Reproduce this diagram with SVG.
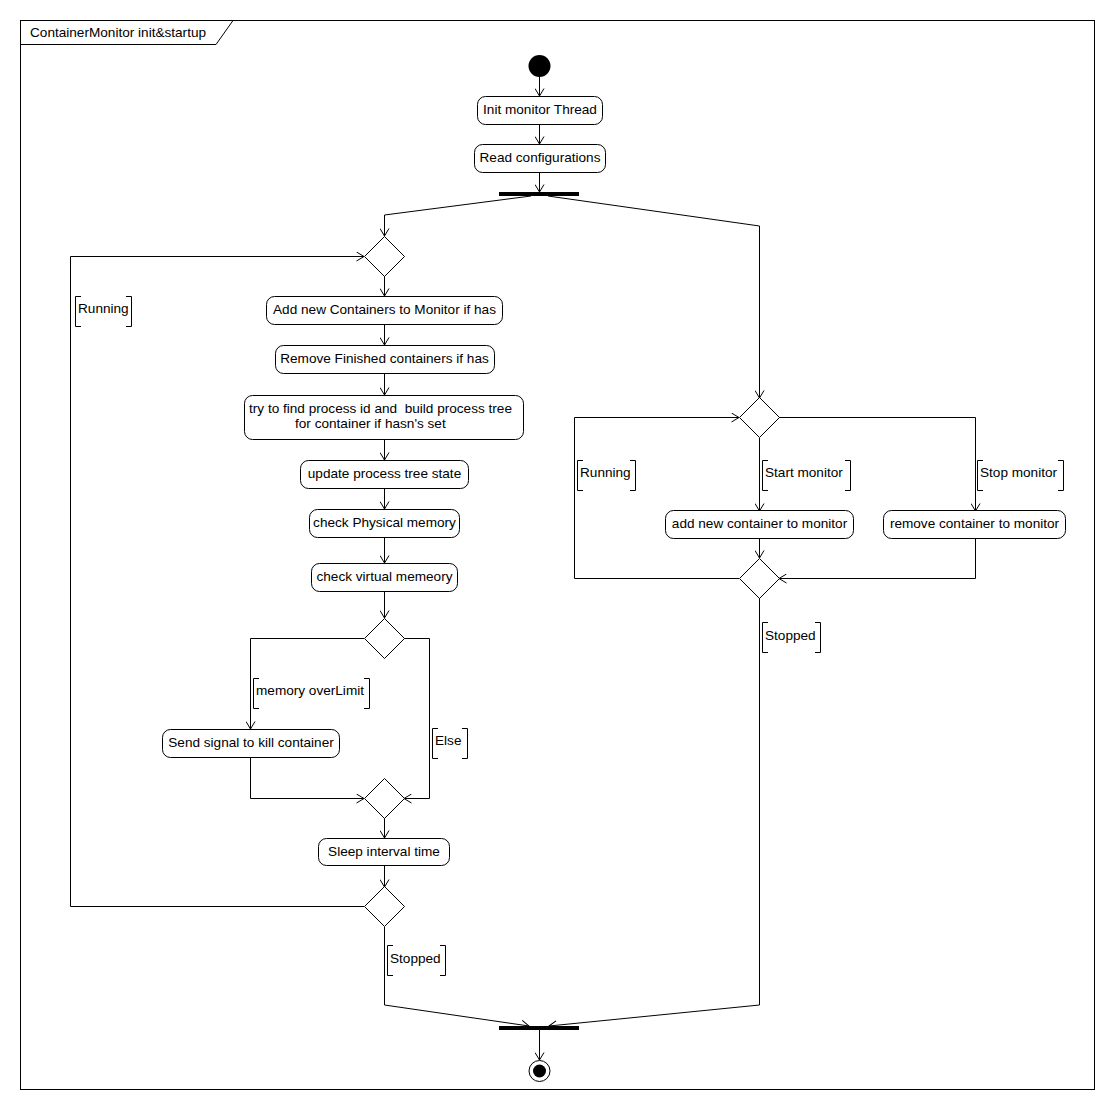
<svg xmlns="http://www.w3.org/2000/svg" width="1115" height="1111" viewBox="0 0 1115 1111">
<style>
text{font-family:"Liberation Sans",Arial,sans-serif;font-size:13.6px;fill:#000}
.act{fill:#fff;stroke:#000;stroke-width:1}
.dec{fill:#fff;stroke:#000;stroke-width:1}
.c{fill:none;stroke:#000;stroke-width:1}
.g{fill:none;stroke:#000;stroke-width:1}
.bar{fill:#000}
</style>
<defs>
<marker id="arr" viewBox="0 0 10 10" refX="9.5" refY="5" markerWidth="10" markerHeight="10" markerUnits="userSpaceOnUse" orient="auto">
<path d="M2,0.5 L9.5,5 L2,9.5" fill="none" stroke="#000" stroke-width="1"/>
</marker>
</defs>
<rect x="0" y="0" width="1115" height="1111" fill="#fff"/>
<g id="frame">
<rect x="20.5" y="20.5" width="1074" height="1069" fill="none" stroke="#000"/>
<path d="M20.5,44.5 H216 L233,20.5" fill="none" stroke="#000"/>
<text x="30" y="37">ContainerMonitor init&amp;startup</text>
</g>
<g id="connectors">
<path class="c" d="M539.5,77 V96" marker-end="url(#arr)"/>
<path class="c" d="M539.5,124 V144" marker-end="url(#arr)"/>
<path class="c" d="M539.5,172 V192" marker-end="url(#arr)"/>
<path class="c" d="M531,196 L384.5,215 V236" marker-end="url(#arr)"/>
<path class="c" d="M548,196 L759.5,226 V398" marker-end="url(#arr)"/>
<path class="c" d="M384.5,276 V296" marker-end="url(#arr)"/>
<path class="c" d="M384.5,324 V345" marker-end="url(#arr)"/>
<path class="c" d="M384.5,373 V395" marker-end="url(#arr)"/>
<path class="c" d="M384.5,440 V460" marker-end="url(#arr)"/>
<path class="c" d="M384.5,488 V509" marker-end="url(#arr)"/>
<path class="c" d="M384.5,537 V563" marker-end="url(#arr)"/>
<path class="c" d="M384.5,591 V618" marker-end="url(#arr)"/>
<path class="c" d="M364,638.5 H250.5 V729" marker-end="url(#arr)"/>
<path class="c" d="M404,638.5 H429.5 V798.5 H404" marker-end="url(#arr)"/>
<path class="c" d="M250.5,757 V798.5 H364" marker-end="url(#arr)"/>
<path class="c" d="M384.5,818 V838" marker-end="url(#arr)"/>
<path class="c" d="M384.5,865 V887" marker-end="url(#arr)"/>
<path class="c" d="M364,906.5 H70.5 V256.5 H364" marker-end="url(#arr)"/>
<path class="c" d="M384.5,927 V1005 L529,1026" marker-end="url(#arr)"/>
<path class="c" d="M759.5,438 V511" marker-end="url(#arr)"/>
<path class="c" d="M779,417.5 H975.5 V511" marker-end="url(#arr)"/>
<path class="c" d="M759.5,538 V558" marker-end="url(#arr)"/>
<path class="c" d="M975.5,538 V578.5 H779" marker-end="url(#arr)"/>
<path class="c" d="M739,578.5 H574.5 V417.5 H739" marker-end="url(#arr)"/>
<path class="c" d="M759.5,598 V1005 L549,1026" marker-end="url(#arr)"/>
<path class="c" d="M539.5,1030 V1060" marker-end="url(#arr)"/>
</g>
<g id="guards">
<g id="g-running-left"><path class="g" d="M81,296.5 H75.5 V326.5 H81 M126,296.5 H131.5 V326.5 H126"/><text x="78" y="313">Running</text></g>
<g id="g-overlimit"><path class="g" d="M259,678.5 H253.5 V708.5 H259 M364,678.5 H369.5 V708.5 H364"/><text x="256" y="695">memory overLimit</text></g>
<g id="g-else"><path class="g" d="M438,728.5 H432.5 V758.5 H438 M462,728.5 H467.5 V758.5 H462"/><text x="435" y="745">Else</text></g>
<g id="g-stopped-left"><path class="g" d="M393,945.5 H387.5 V975.5 H393 M440,945.5 H445.5 V975.5 H440"/><text x="390" y="963">Stopped</text></g>
<g id="g-running-right"><path class="g" d="M583,460.5 H577.5 V490.5 H583 M630,460.5 H635.5 V490.5 H630"/><text x="580" y="477">Running</text></g>
<g id="g-start"><path class="g" d="M768,460.5 H762.5 V490.5 H768 M845,460.5 H850.5 V490.5 H845"/><text x="765" y="477">Start monitor</text></g>
<g id="g-stop"><path class="g" d="M983,460.5 H977.5 V490.5 H983 M1058,460.5 H1063.5 V490.5 H1058"/><text x="980" y="477">Stop monitor</text></g>
<g id="g-stopped-right"><path class="g" d="M768,622.5 H762.5 V652.5 H768 M815,622.5 H820.5 V652.5 H815"/><text x="765" y="640">Stopped</text></g>
</g>
<g id="start"><circle cx="539.5" cy="66" r="11" fill="#000"/></g>
<g id="init"><rect class="act" x="477.5" y="96.5" width="125" height="28" rx="8"/><text x="540" y="114" text-anchor="middle">Init monitor Thread</text></g>
<g id="read"><rect class="act" x="474.5" y="144.5" width="131" height="28" rx="8"/><text x="540" y="162" text-anchor="middle">Read configurations</text></g>
<g id="fork"><rect class="bar" x="499" y="192" width="80" height="4"/></g>
<g id="d-loop"><path class="dec" d="M384.5,236.5 L404.5,256.5 L384.5,276.5 L364.5,256.5 Z"/></g>
<g id="add"><rect class="act" x="266.5" y="296.5" width="236" height="28" rx="8"/><text x="384.5" y="314" text-anchor="middle">Add new Containers to Monitor if has</text></g>
<g id="remove"><rect class="act" x="275.5" y="345.5" width="219" height="28" rx="8"/><text x="384.5" y="363" text-anchor="middle">Remove Finished containers if has</text></g>
<g id="try"><rect class="act" x="244.5" y="395.5" width="279" height="44" rx="8"/><text x="249" y="413" xml:space="preserve">try to find process id and  build process tree</text><text x="295" y="428">for container if hasn's set</text></g>
<g id="update"><rect class="act" x="300.5" y="460.5" width="168" height="28" rx="8"/><text x="384.5" y="478" text-anchor="middle">update process tree state</text></g>
<g id="phys"><rect class="act" x="309.5" y="509.5" width="150" height="28" rx="8"/><text x="384.5" y="527" text-anchor="middle">check Physical memory</text></g>
<g id="virt"><rect class="act" x="311.5" y="563.5" width="146" height="28" rx="8"/><text x="384.5" y="581" text-anchor="middle">check virtual memeory</text></g>
<g id="d-mem"><path class="dec" d="M384.5,618.5 L404.5,638.5 L384.5,658.5 L364.5,638.5 Z"/></g>
<g id="kill"><rect class="act" x="162.5" y="729.5" width="177" height="28" rx="8"/><text x="251" y="747" text-anchor="middle">Send signal to kill container</text></g>
<g id="m-mem"><path class="dec" d="M384.5,778.5 L404.5,798.5 L384.5,818.5 L364.5,798.5 Z"/></g>
<g id="sleep"><rect class="act" x="318.5" y="838.5" width="131" height="27" rx="8"/><text x="384" y="856" text-anchor="middle">Sleep interval time</text></g>
<g id="d-end"><path class="dec" d="M384.5,886.5 L404.5,906.5 L384.5,926.5 L364.5,906.5 Z"/></g>
<g id="d-right"><path class="dec" d="M759.5,397.5 L779.5,417.5 L759.5,437.5 L739.5,417.5 Z"/></g>
<g id="addc"><rect class="act" x="665.5" y="510.5" width="188" height="28" rx="8"/><text x="759.5" y="528" text-anchor="middle">add new container to monitor</text></g>
<g id="remc"><rect class="act" x="883.5" y="510.5" width="182" height="28" rx="8"/><text x="974.5" y="528" text-anchor="middle">remove container to monitor</text></g>
<g id="m-right"><path class="dec" d="M759.5,558.5 L779.5,578.5 L759.5,598.5 L739.5,578.5 Z"/></g>
<g id="join"><rect class="bar" x="499" y="1026" width="80" height="4"/></g>
<g id="final"><circle cx="539.5" cy="1071" r="10.5" fill="#fff" stroke="#000"/><circle cx="539.5" cy="1071" r="6.5" fill="#000"/></g>
</svg>
